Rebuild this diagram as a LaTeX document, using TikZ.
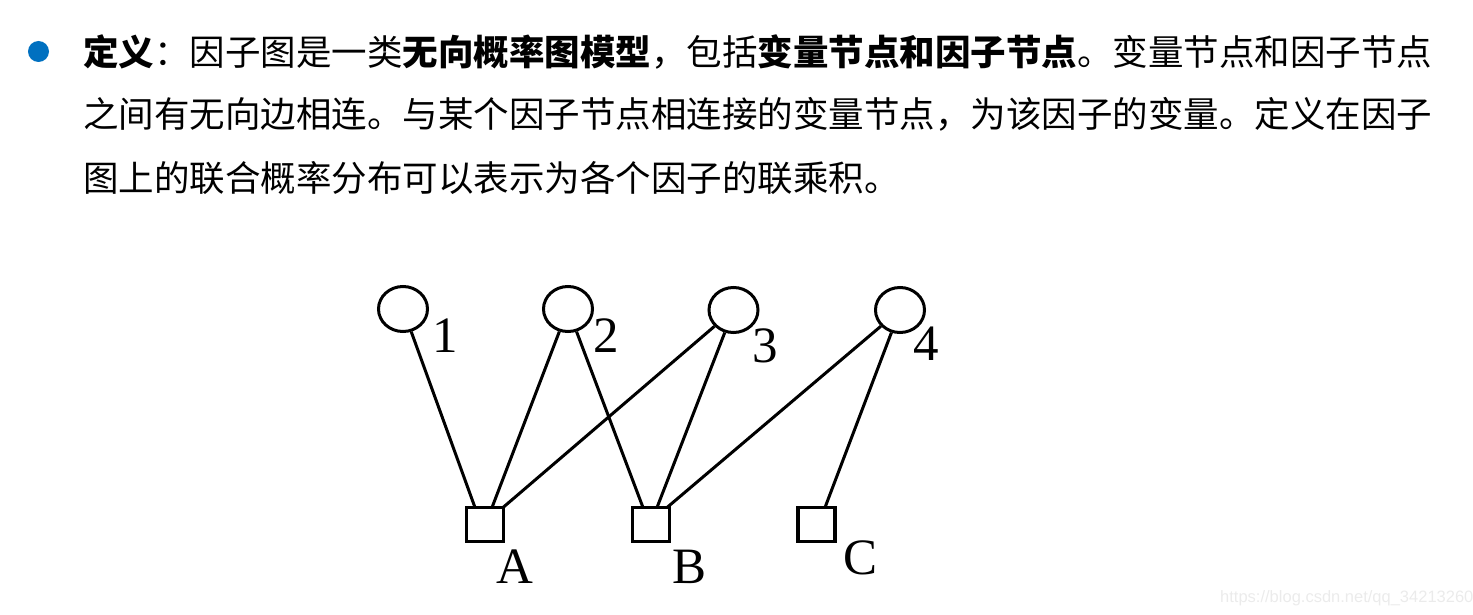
\documentclass[tikz,border=0pt]{standalone}
\usepackage{fontspec}
\setmainfont{Liberation Serif}
\newfontfamily\cjk{Noto Sans CJK SC}
\newfontfamily\wmfont{Liberation Sans}
\usetikzlibrary{shapes.geometric}
\definecolor{bulletblue}{HTML}{0070C0}
\definecolor{wmgray}{HTML}{EBEBEB}
\begin{document}
\begin{tikzpicture}[x=1pt,y=-1pt,
  txt/.style={anchor=base west,inner sep=0pt,font=\cjk\fontsize{35.5}{35.5}\selectfont},
  varnode/.style={ellipse,draw,line width=3pt,minimum width=49pt,minimum height=45pt,inner sep=0pt},
  facnode/.style={rectangle,draw,line width=3.5pt,minimum width=37pt,minimum height=34pt,inner sep=0pt,outer sep=0pt},
  lbl/.style={anchor=base,inner sep=0pt,font=\fontsize{51}{51}\selectfont},
  edge/.style={line width=3pt}]
\useasboundingbox (0,0) rectangle (1473,615);
% bullet and text
\fill[bulletblue] (38.5,51.5) circle (10.5);
\node[txt] (t1) at (83,65.5) {\textbf{定义}：因子图是一类\textbf{无向概率图模型}，包括\textbf{变量节点和因子节点}。变量节点和因子节点};
\node[txt] (t2) at (83,127.5) {之间有无向边相连。与某个因子节点相连接的变量节点，为该因子的变量。定义在因子};
\node[txt] (t3) at (83,191.5) {图上的联合概率分布可以表示为各个因子的联乘积。};
% variable nodes
\node[varnode] (v1) at (403,309) {};
\node[varnode] (v2) at (568,309) {};
\node[varnode] (v3) at (733.5,310) {};
\node[varnode] (v4) at (900,310) {};
% factor nodes
\node[facnode] (fA) at (485,524.5) {};
\node[facnode] (fB) at (651,524.5) {};
\node[facnode] (fC) at (816.5,524.5) {};
% labels
\node[lbl] (n1) at (445,352) {1};
\node[lbl] (n2) at (606,352) {2};
\node[lbl] (n3) at (765,362) {3};
\node[lbl] (n4) at (926,360) {4};
\node[lbl] (nA) at (514.5,583) {A};
\node[lbl] (nB) at (690,583) {B};
\node[lbl] (nC) at (860,574) {C};
% edges
\draw[edge] (v1) -- ([xshift=-10pt]fA.north);
\draw[edge] (v2) -- ([xshift=7pt]fA.north);
\draw[edge] (v3) -- ([xshift=18pt]fA.north);
\draw[edge] (v2) -- ([xshift=-8pt]fB.north);
\draw[edge] (v3) -- ([xshift=6pt]fB.north);
\draw[edge] (v4) -- ([xshift=16pt]fB.north);
\draw[edge] (v4) -- ([xshift=8.5pt]fC.north);
% watermark
\node[anchor=base west,inner sep=0pt,text=wmgray,font=\wmfont\fontsize{16.5}{16.5}\selectfont] (wm) at (1220,602) {https://blog.csdn.net/qq\_34213260};
\end{tikzpicture}
\end{document}
